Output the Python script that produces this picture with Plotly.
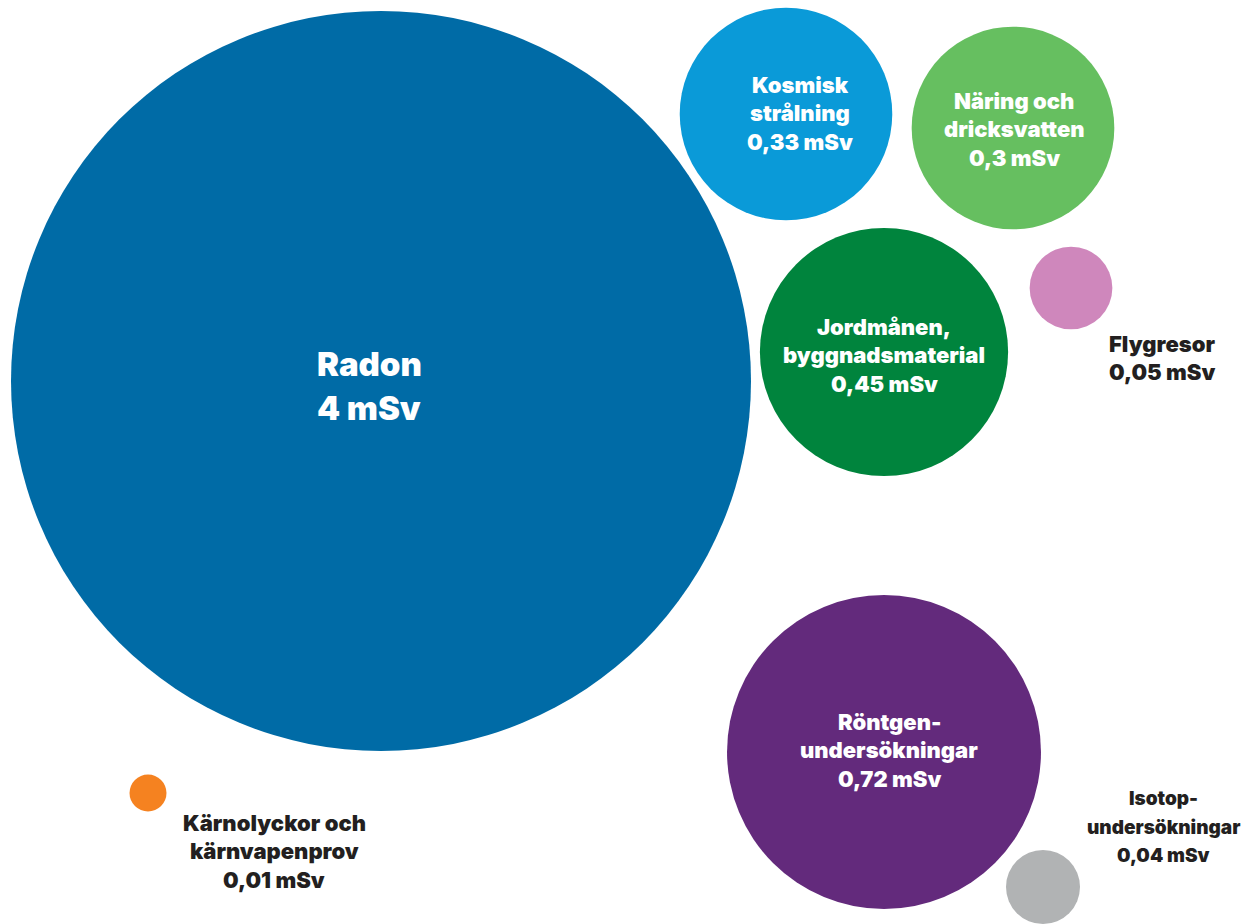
import plotly.graph_objects as go
import math

# Data
categories = ["Radon", "Kosmisk strålning", "Näring och dricksvatten",
              "Jordmånen, byggnadsmaterial", "Flygresor",
              "Röntgenundersökningar", "Isotopundersökningar",
              "Kärnolyckor och kärnvapenprov"]
values_msv = [4, 0.33, 0.3, 0.45, 0.05, 0.72, 0.04, 0.01]
value_labels = ["4 mSv", "0,33 mSv", "0,3 mSv", "0,45 mSv", "0,05 mSv",
                "0,72 mSv", "0,04 mSv", "0,01 mSv"]
label_lines = [["Radon"], ["Kosmisk", "strålning"], ["Näring och", "dricksvatten"],
               ["Jordmånen,", "byggnadsmaterial"], ["Flygresor"],
               ["Röntgen-", "undersökningar"], ["Isotop-", "undersökningar"],
               ["Kärnolyckor och", "kärnvapenprov"]]

# Layout (packing positions in pixel space, styles)
cx = [381, 786, 1013, 884, 1071, 884, 1043, 148]
cy = [381, 114, 128, 352, 288, 752, 887, 793]
colors = ["#006ba6", "#0a9ad8", "#66bf60", "#00843d", "#cf87bc",
          "#632a7c", "#b1b3b4", "#f58220"]
label_x = [369, 800, 1014, 884, 1162, 889, 1163, 274]
label_y = [386, 113, 129, 355, 358, 750, 827, 851]
label_inside = [True, True, True, True, False, True, False, False]
label_size = [33, 22, 22, 22, 22, 22, 19, 22]
line_gap = [44, 28.5, 28.5, 28.5, 28.5, 28.5, 28.5, 28.5]

max_diam = 740
vmax = max(values_msv)
diam = [max_diam * math.sqrt(v / vmax) for v in values_msv]

W, H = 1248, 924

fig = go.Figure()
fig.add_trace(go.Scatter(
    x=cx, y=cy, mode="markers",
    marker=dict(size=diam, sizemode="diameter", color=colors,
                line=dict(width=0), opacity=1),
    hovertext=categories, hoverinfo="text", showlegend=False))

for i in range(len(categories)):
    lines = label_lines[i] + [value_labels[i]]
    n = len(lines)
    for k, t in enumerate(lines):
        fig.add_annotation(
            x=label_x[i], y=label_y[i] + (k - (n - 1) / 2) * line_gap[i],
            xref="x", yref="y", text=t, showarrow=False,
            xanchor="center", yanchor="middle",
            font=dict(family="Inter", size=label_size[i], weight=900,
                      color="#ffffff" if label_inside[i] else "#231f20"))

fig.update_layout(
    width=W, height=H,
    margin=dict(l=0, r=0, t=0, b=0),
    paper_bgcolor="#ffffff", plot_bgcolor="#ffffff",
    xaxis=dict(range=[0, W], visible=False, fixedrange=True),
    yaxis=dict(range=[H, 0], visible=False, fixedrange=True),
)
fig.write_html(
    "out.html",
    config={"displayModeBar": False},
    post_script="document.body.style.margin='0';document.body.style.overflow='hidden';",
)
